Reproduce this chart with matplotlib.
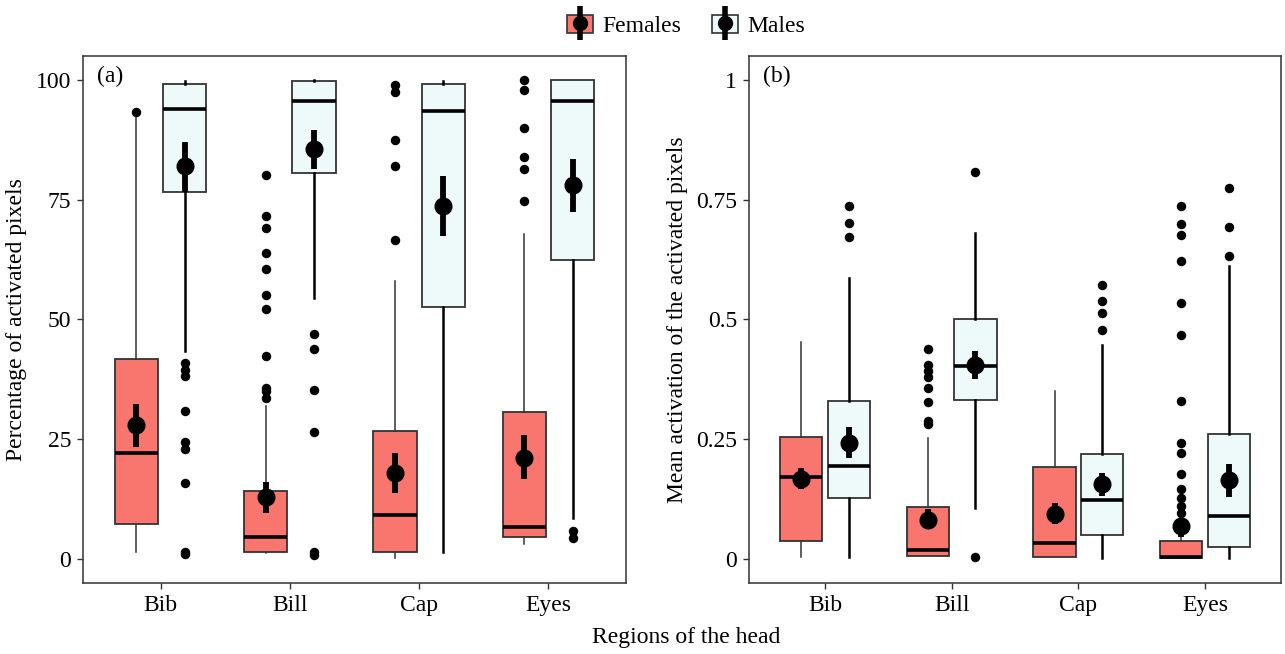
import numpy as np
import matplotlib.pyplot as plt
from matplotlib.patches import Patch
from matplotlib.lines import Line2D

plt.rcParams['font.family'] = ['Liberation Serif', 'DejaVu Serif']

regions = ['Bib', 'Bill', 'Cap', 'Eyes']

# panel (a): percentage of activated pixels
fa_whislo = [1.4, 1.2, 0.3, 3.1]
fa_q1 = [7.4, 1.4, 1.4, 4.5]
fa_med = [22.2, 4.7, 9.2, 6.6]
fa_q3 = [41.8, 14.1, 26.8, 30.7]
fa_whishi = [92.2, 31.9, 58.1, 67.8]
fa_mean = [27.9, 13.0, 17.9, 21.1]
fa_lo = [23.3, 9.7, 13.7, 16.8]
fa_hi = [32.4, 16.1, 22.2, 25.8]
fa_out = [[93.4],
          [35.8, 35.0, 33.6, 42.4, 52.2, 55.2, 60.6, 63.8, 69.0, 71.6, 80.2],
          [98.9, 97.5, 87.5, 82.1, 66.5],
          [99.9, 98.0, 89.9, 83.9, 81.4, 74.8]]

ma_whislo = [43.5, 54.4, 1.4, 8.5]
ma_q1 = [76.7, 80.5, 52.7, 62.4]
ma_med = [93.9, 95.6, 93.6, 95.6]
ma_q3 = [99.1, 99.8, 99.2, 99.9]
ma_whishi = [99.8, 100.0, 99.8, 100.0]
ma_mean = [82.0, 85.6, 73.7, 78.1]
ma_lo = [76.7, 81.4, 67.4, 72.4]
ma_hi = [87.1, 89.5, 80.0, 83.4]
ma_out = [[40.9, 39.5, 38.3, 31.0, 24.4, 22.9, 15.9, 1.5, 1.0],
          [46.9, 43.9, 35.3, 26.5, 1.4, 0.9],
          [],
          [5.8, 4.3]]

# panel (b): mean activation of the activated pixels
fb_whislo = [0.005, 0.006, 0.005, 0.003]
fb_q1 = [0.037, 0.006, 0.005, 0.003]
fb_med = [0.171, 0.019, 0.033, 0.005]
fb_q3 = [0.254, 0.109, 0.192, 0.038]
fb_whishi = [0.453, 0.252, 0.351, 0.090]
fb_mean = [0.168, 0.081, 0.095, 0.069]
fb_lo = [0.146, 0.062, 0.074, 0.045]
fb_hi = [0.191, 0.104, 0.116, 0.085]
fb_out = [[],
          [0.438, 0.404, 0.392, 0.379, 0.357, 0.327, 0.288, 0.281],
          [],
          [0.737, 0.700, 0.676, 0.622, 0.534, 0.468, 0.329, 0.243, 0.222,
           0.178, 0.146, 0.128, 0.111, 0.097]]

mb_whislo = [0.005, 0.107, 0.003, 0.003]
mb_q1 = [0.127, 0.331, 0.050, 0.026]
mb_med = [0.194, 0.402, 0.123, 0.090]
mb_q3 = [0.329, 0.502, 0.220, 0.260]
mb_whishi = [0.586, 0.680, 0.447, 0.611]
mb_mean = [0.243, 0.405, 0.156, 0.164]
mb_lo = [0.210, 0.376, 0.132, 0.130]
mb_hi = [0.275, 0.435, 0.180, 0.199]
mb_out = [[0.737, 0.702, 0.672],
          [0.807, 0.005],
          [0.573, 0.539, 0.513, 0.478],
          [0.774, 0.692, 0.632]]

fem_color = '#F8766D'
male_color = '#EEF9F9'
edge = '#333333'
fs = 17


def make_stats(whislo, q1, med, q3, whishi, out):
    return [dict(whislo=a, q1=b, med=c, q3=d, whishi=e, fliers=f)
            for a, b, c, d, e, f in zip(whislo, q1, med, q3, whishi, out)]


def draw_group(ax, pos, stats, mean, lo, hi, fc, wcol, wlw):
    ax.bxp(stats, positions=pos, widths=0.335, patch_artist=True, showcaps=False,
           boxprops=dict(facecolor=fc, edgecolor=edge, linewidth=1.3),
           medianprops=dict(color='black', linewidth=2.6, solid_capstyle='butt'),
           whiskerprops=dict(color=wcol, linewidth=wlw),
           flierprops=dict(marker='o', markerfacecolor='black', markeredgecolor='black',
                           markersize=5.8, linestyle='none'))
    mean = np.array(mean)
    ax.errorbar(pos, mean, yerr=[mean - np.array(lo), np.array(hi) - mean],
                fmt='o', color='black', ms=12, elinewidth=4.2, capsize=0, zorder=5)


def setup_panel(ax, ylim, yticks, yticklabels, ylabel, tag):
    ax.set_xlim(0.4, 4.6)
    ax.set_ylim(*ylim)
    ax.set_xticks(np.arange(1, 5))
    ax.set_xticklabels(regions, fontsize=fs)
    ax.set_yticks(yticks)
    ax.set_yticklabels(yticklabels, fontsize=fs)
    ax.set_ylabel(ylabel, fontsize=fs, labelpad=6)
    ax.tick_params(direction='out', length=4.5, width=1, color=edge, pad=4)
    for sp in ax.spines.values():
        sp.set_color(edge)
        sp.set_linewidth(1.1)
    ax.text(0.026, 0.962, tag, transform=ax.transAxes, fontsize=fs, va='center', ha='left')


fig = plt.figure(figsize=(12.85, 6.54), dpi=100)
ax1 = fig.add_axes([0.0646, 0.1086, 0.4226, 0.8058])
ax2 = fig.add_axes([0.5829, 0.1086, 0.4140, 0.8058])

x = np.arange(1, 5)
off = 0.1875

draw_group(ax1, x - off, make_stats(fa_whislo, fa_q1, fa_med, fa_q3, fa_whishi, fa_out),
           fa_mean, fa_lo, fa_hi, fem_color, edge, 1.1)
draw_group(ax1, x + off, make_stats(ma_whislo, ma_q1, ma_med, ma_q3, ma_whishi, ma_out),
           ma_mean, ma_lo, ma_hi, male_color, 'black', 1.8)
draw_group(ax2, x - off, make_stats(fb_whislo, fb_q1, fb_med, fb_q3, fb_whishi, fb_out),
           fb_mean, fb_lo, fb_hi, fem_color, edge, 1.1)
draw_group(ax2, x + off, make_stats(mb_whislo, mb_q1, mb_med, mb_q3, mb_whishi, mb_out),
           mb_mean, mb_lo, mb_hi, male_color, 'black', 1.8)

setup_panel(ax1, (-5, 105), [0, 25, 50, 75, 100], ['0', '25', '50', '75', '100'],
            'Percentage of activated pixels', '(a)')
setup_panel(ax2, (-0.05, 1.05), [0, 0.25, 0.5, 0.75, 1], ['0', '0.25', '0.5', '0.75', '1'],
            'Mean activation of the activated pixels', '(b)')

fig.text(0.534, 0.025, 'Regions of the head', fontsize=fs, ha='center', va='center')

# legend: box + mean point with error bar
def key(fc):
    return (Patch(facecolor=fc, edgecolor=edge, linewidth=1.2),
            Line2D([], [], marker='|', color='black', ms=24, mew=4, linestyle='none'),
            Line2D([], [], marker='o', color='black', ms=10, linestyle='none'))

fig.legend([key(fem_color), key(male_color)], ['Females', 'Males'],
           loc='upper center', bbox_to_anchor=(0.534, 1.01), ncol=2, frameon=False,
           fontsize=fs, handlelength=1.1, handleheight=0.8, columnspacing=1.3,
           handletextpad=0.4)

fig.savefig('out.png', dpi=100)
